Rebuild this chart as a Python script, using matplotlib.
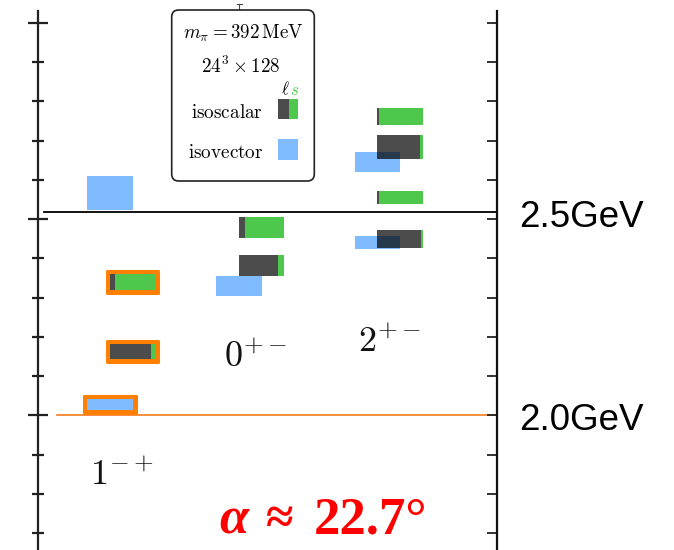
import numpy as np
import matplotlib.pyplot as plt
from matplotlib.patches import FancyBboxPatch, Rectangle
from matplotlib.lines import Line2D

plt.rcParams['mathtext.fontset'] = 'cm'

# channels (J^PC)
channels = [r'$1^{-+}$', r'$0^{+-}$', r'$2^{+-}$']

# isoscalar levels: channel index, mass (GeV), half band, light (l) fraction of the mixing
iso_s_channel = [0, 0, 1, 1, 2, 2, 2, 2]
iso_s_mass = [2.329, 2.157, 2.462, 2.369, 2.736, 2.661, 2.537, 2.434]
iso_s_err = [0.020, 0.018, 0.026, 0.026, 0.021, 0.029, 0.016, 0.021]
iso_s_light = [0.10, 0.90, 0.13, 0.87, 0.04, 0.945, 0.03, 0.97]
iso_s_marked = [True, True, False, False, False, False, False, False]

# isovector levels
iso_v_channel = [0, 0, 1, 2, 2]
iso_v_mass = [2.547, 2.027, 2.318, 2.624, 2.425]
iso_v_err = [0.041, 0.013, 0.025, 0.024, 0.016]
iso_v_marked = [False, True, False, False, False]

# reference lines (GeV)
ref_lines = [2.5, 2.0]
ref_labels = ['2.5GeV', '2.0GeV']

mixing_angle = '22.7°'

# colours
c_light = 'black'
c_strange = '#4dc84d'
c_vector = '#80bbff'
c_mark = '#ff7f00'

W, H = 674, 550
fig = plt.figure(figsize=(W / 100, H / 100), dpi=100)


def P(x, y):
    # pixel position (from top-left) -> inches for dpi_scale_trans
    return x / 100, (H - y) / 100


# axes geometry
ymin, ymax = 1.60, 2.996
px_per_gev = 406.6
top_px = 10.5
bottom_px = top_px + (ymax - ymin) * px_per_gev
left_px, right_px = 38, 497
ax = fig.add_axes([left_px / W, 1 - bottom_px / H,
                   (right_px - left_px) / W, (bottom_px - top_px) / H])
ax.set_ylim(ymin, ymax)
ax.set_xlim(0.375, 3.812)

channel_x = np.array([1.0, 1.965, 3.0])
shift = 0.085
bw = 0.34

# tick marks (not labelled)
tick_step = 0.0966
major = 2.0 + 5 * tick_step * np.arange(0, 3)
minor = 2.0 + tick_step * np.arange(-4, 11)
ax.set_yticks(major)
ax.set_yticks(minor, minor=True)
ax.set_yticklabels([])
ax.set_xticks([])
ax.tick_params(axis='y', which='major', direction='inout', length=14, width=1.6,
               color='#222222', right=False)
ax.tick_params(axis='y', which='minor', direction='inout', length=8.6, width=1.6,
               color='#222222', right=False)
for s in ['top', 'bottom', 'right']:
    ax.spines[s].set_visible(False)
ax.spines['left'].set_linewidth(1.6)
ax.spines['left'].set_color('#222222')

ax2 = ax.twinx()
ax2.set_ylim(ymin, ymax)
ax2.set_yticks(major)
ax2.set_yticks(minor, minor=True)
ax2.set_yticklabels([])
ax2.tick_params(axis='y', which='both', direction='in', length=7.2, width=1.3,
                color='#222222')
for s in ['top', 'bottom', 'left']:
    ax2.spines[s].set_visible(False)
ax2.spines['right'].set_linewidth(1.6)
ax2.spines['right'].set_color('#111111')

# reference lines and labels
ax.axhline(ref_lines[0], xmin=0.013, xmax=1, color='black', lw=1.3, zorder=1)
ax.axhline(ref_lines[1], xmin=0.041, xmax=1, color='#f57c1f', lw=1.2, zorder=1)
for y, lab in zip(ref_lines, ref_labels):
    ax.annotate(lab, xy=(1, y), xycoords=ax.get_yaxis_transform(),
                xytext=(16, -3.5), textcoords='offset points', va='center',
                ha='left', fontsize=26.5, family='Liberation Sans',
                annotation_clip=False)

# isovector boxes
vx = channel_x[iso_v_channel] - shift
vm = np.array(iso_v_mass)
ve = np.array(iso_v_err)

# isoscalar boxes, split into light / strange parts
sx = channel_x[iso_s_channel] + shift
sm = np.array(iso_s_mass)
se = np.array(iso_s_err)
sl = np.array(iso_s_light)

# orange frames around the highlighted states
pad_x, pad_y = 0.022, 0.0073
for x, m, e, flag in list(zip(sx, sm, se, iso_s_marked)) + list(zip(vx, vm, ve, iso_v_marked)):
    if flag:
        ax.bar(x, 2 * e + 2 * pad_y, bottom=m - e - pad_y, width=bw + 2 * pad_x,
               color=c_mark, edgecolor=c_mark, lw=2.2, joinstyle='round', zorder=2)
        ax.bar(x, 2 * e, bottom=m - e, width=bw, color='white', zorder=2.5)

ax.bar(vx, 2 * ve, bottom=vm - ve, width=bw, color=c_vector, zorder=3)
left = sx - bw / 2
ax.bar(left, 2 * se, bottom=sm - se, width=bw * sl, align='edge',
       color=c_light, alpha=0.7, lw=0, zorder=4)
ax.bar(left + bw * sl, 2 * se, bottom=sm - se, width=bw * (1 - sl), align='edge',
       color=c_strange, lw=0, zorder=4)

# channel labels
label_pos = [(1.002, 1.829), (2.006, 2.120), (3.008, 2.157)]
for lab, (x, y) in zip(channels, label_pos):
    ax.text(x, y, lab, ha='center', va='baseline', fontsize=26, color='#111111')

# key box
T = fig.dpi_scale_trans
box = FancyBboxPatch(P(171.7, 181), 142.6 / 100, 171 / 100,
                     boxstyle='round,pad=0,rounding_size=0.07', transform=T,
                     fc='white', ec='#222222', lw=1.2, zorder=5)
fig.add_artist(box)
fig.add_artist(Line2D([2.39, 2.39], [(H - 4) / 100, (H - 10) / 100], transform=T,
                      color='#444444', lw=0.8))
fig.add_artist(Line2D([2.365, 2.415], [(H - 4) / 100] * 2, transform=T,
                      color='#444444', lw=0.8))
kw = dict(transform=T, fontsize=13.8, zorder=6)
fig.text(*P(243.5, 33), r'$m_\pi = 392\,\mathrm{MeV}$', ha='center', va='center', **kw)
fig.text(*P(240.5, 66), r'$24^3 \times 128$', ha='center', va='center', **kw)
fig.text(*P(263, 112), r'$\mathrm{isoscalar}$', ha='right', va='center', **kw)
fig.text(*P(263, 152), r'$\mathrm{isovector}$', ha='right', va='center', **kw)
fig.text(*P(285.5, 89), r'$\ell$', ha='center', va='center', transform=T,
         fontsize=12, zorder=6)
fig.text(*P(294, 90), r'$s$', ha='center', va='center', transform=T,
         fontsize=12, color=c_strange, zorder=6)
fig.add_artist(Rectangle(P(278.3, 119.3), 0.104, 0.20, transform=T,
                         fc=c_light, alpha=0.7, lw=0, zorder=6))
fig.add_artist(Rectangle(P(288.7, 119.3), 0.096, 0.20, transform=T,
                         fc=c_strange, lw=0, zorder=6))
fig.add_artist(Rectangle(P(278.3, 160), 0.20, 0.207, transform=T,
                         fc=c_vector, lw=0, zorder=6))

# mixing angle
red = dict(transform=T, color='red', family='Liberation Serif', weight='bold',
           va='baseline')
fig.text(*P(219, 533.5), 'α', fontsize=38, style='italic', **red)
fig.text(*P(266, 533.5), '≈', fontsize=36, **red)
fig.text(*P(314, 533.5), mixing_angle, fontsize=38, **red)

fig.savefig('out.png', dpi=100)
